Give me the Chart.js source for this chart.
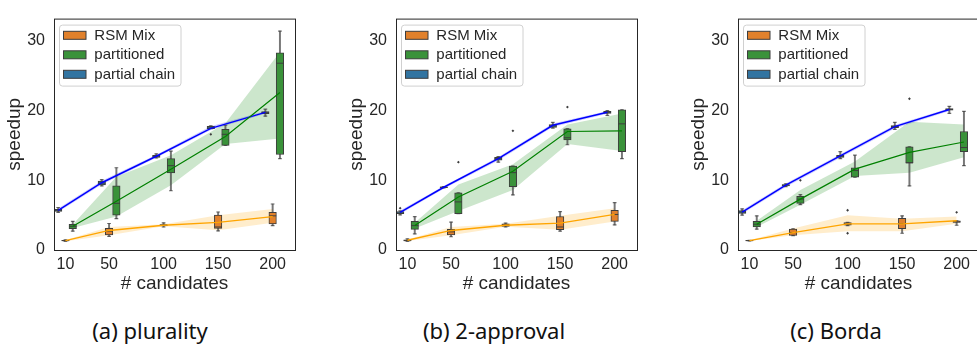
<!DOCTYPE html>
<html><head><meta charset="utf-8">
<script src="https://cdn.jsdelivr.net/npm/chart.js@4.4.1/dist/chart.umd.min.js"></script>
<style>
html,body{margin:0;padding:0;background:#fff;}
body{width:977px;height:355px;overflow:hidden;position:relative;}
.panel{position:absolute;top:0;width:330px;height:300px;}
.panel canvas{display:block;}
.cap{position:absolute;top:317px;transform:translateX(-50%);white-space:nowrap;font-family:"Noto Sans","DejaVu Sans",sans-serif;font-size:22px;line-height:26px;color:#111;}
</style></head>
<body>
<div class="panel" style="left:0px"><canvas id="c0" width="330" height="300"></canvas></div>
<div class="panel" style="left:342px"><canvas id="c1" width="330" height="300"></canvas></div>
<div class="panel" style="left:684px"><canvas id="c2" width="330" height="300"></canvas></div>
<div class="cap" style="left:150px">(a) plurality</div>
<div class="cap" style="left:494px">(b) 2-approval</div>
<div class="cap" style="left:836px">(c) Borda</div>
<script>
// ---------- data ----------
const candidates = [10, 50, 100, 150, 200];
const yTicks = [0, 10, 20, 30];
const seriesNames = ['RSM Mix', 'partitioned', 'partial chain'];

// box stats per candidate: [lower whisker, q1, median, q3, upper whisker]
// (a) plurality
const pluralityRsmBox = [[1.25,1.3,1.35,1.4,1.45],[1.95,2.15,2.7,3.1,3.8],[3.3,3.45,3.55,3.65,3.9],[2.75,3.1,3.3,5.0,5.45],[3.5,3.75,4.9,5.4,6.6]];
const pluralityRsmOut = [[],[],[],[],[]];
const pluralityRsmMean = [1.35,2.8,3.55,3.95,4.8];
const pluralityRsmLo = [1.25,2.1,3.4,2.85,3.9];
const pluralityRsmHi = [1.45,3.3,3.7,5.0,5.9];

const pluralityPartBox = [[2.7,3.05,3.4,3.7,4.1],[4.5,5.0,6.7,9.2,11.8],[8.5,11.05,12.1,13.1,14.2],[15.0,15.0,16.6,17.3,17.9],[13.1,13.7,26.8,28.3,31.4]];
const pluralityPartOut = [[],[],[],[],[]];
const pluralityPartMean = [3.4,7.0,11.6,16.3,22.6];
const pluralityPartLo = [3.15,4.8,9.3,15.2,16.0];
const pluralityPartHi = [3.65,10.5,13.6,18.2,28.4];

const pluralityChainBox = [[5.4,5.55,5.7,5.85,6.1],[9.2,9.35,9.6,9.9,10.1],[13.2,13.3,13.45,13.6,13.8],[17.4,17.4,17.5,17.75,17.8],[19.2,19.55,19.7,19.85,20.2]];
const pluralityChainOut = [[],[],[],[16.6],[]];
const pluralityChainMean = [5.7,9.65,13.45,17.45,19.75];
const pluralityChainLo = [5.45,9.4,13.25,17.2,19.55];
const pluralityChainHi = [5.95,9.95,13.65,17.75,19.95];

// (b) 2-approval
const approvalRsmBox = [[1.25,1.3,1.35,1.45,1.6],[1.9,2.15,2.6,2.95,4.0],[3.3,3.4,3.55,3.75,3.85],[2.7,2.9,3.3,4.8,5.5],[3.6,4.1,5.1,5.7,6.8]];
const approvalRsmOut = [[],[],[],[],[]];
const approvalRsmMean = [1.4,2.8,3.55,3.85,5.1];
const approvalRsmLo = [1.3,2.1,3.35,2.9,4.1];
const approvalRsmHi = [1.5,3.3,3.75,4.9,6.0];

const approvalPartBox = [[2.3,2.95,3.5,4.1,4.8],[5.2,5.2,6.9,8.2,8.2],[7.9,9.1,11.1,12.05,12.05],[15.1,15.8,16.1,17.4,17.4],[13.1,14.1,18.1,20.1,20.1]];
const approvalPartOut = [[],[12.6],[17.1],[20.5],[]];
const approvalPartMean = [3.5,7.6,11.3,17.0,17.1];
const approvalPartLo = [3.1,5.6,8.6,15.2,14.2];
const approvalPartHi = [3.9,9.4,12.3,18.0,19.6];

const approvalChainBox = [[5.05,5.2,5.3,5.5,5.6],[8.9,8.95,9.0,9.05,9.1],[12.6,12.9,13.1,13.3,13.4],[17.5,17.6,17.8,18.0,18.3],[19.3,19.6,19.75,19.9,20.0]];
const approvalChainOut = [[6.0],[],[],[],[]];
const approvalChainMean = [5.4,9.0,13.1,17.9,19.75];
const approvalChainLo = [5.15,8.8,12.85,17.65,19.55];
const approvalChainHi = [5.65,9.2,13.35,18.15,19.95];

// (c) Borda
const bordaRsmBox = [[1.3,1.32,1.35,1.38,1.4],[2.05,2.1,2.5,3.0,3.05],[3.5,3.55,3.7,3.95,3.95],[2.4,3.05,3.8,4.55,4.9],[3.55,3.95,4.05,4.2,4.2]];
const bordaRsmOut = [[],[],[5.7,2.4],[],[5.4]];
const bordaRsmMean = [1.35,2.5,3.75,3.75,4.2];
const bordaRsmLo = [1.3,2.1,2.7,2.7,3.75];
const bordaRsmHi = [1.4,3.1,5.0,4.5,4.8];

const bordaPartBox = [[3.0,3.3,3.7,4.1,4.9],[6.5,6.7,7.3,7.7,7.95],[10.45,10.45,11.4,11.8,13.6],[9.2,12.5,12.5,14.8,14.8],[12.1,14.1,14.7,17.0,19.9]];
const bordaPartOut = [[],[10.0],[],[21.7],[]];
const bordaPartMean = [3.7,7.3,11.6,14.0,15.5];
const bordaPartLo = [3.3,6.5,10.6,11.1,13.3];
const bordaPartHi = [4.2,8.6,12.7,18.4,18.0];

const bordaChainBox = [[5.0,5.25,5.45,5.65,5.9],[9.1,9.2,9.3,9.4,9.5],[13.1,13.3,13.45,13.6,14.1],[17.3,17.55,17.7,17.85,18.3],[19.6,20.05,20.15,20.3,20.6]];
const bordaChainOut = [[],[],[],[],[]];
const bordaChainMean = [5.45,9.3,13.5,17.7,20.15];
const bordaChainLo = [5.2,9.05,13.25,17.45,19.95];
const bordaChainHi = [5.7,9.55,13.75,17.95,20.35];

// ---------- styles ----------
const STYLE = [
  {box:'#e1812c', line:'#ffa500', band:'rgba(255,165,0,0.2)', dx: 0, lw: 1.3},
  {box:'#3a923a', line:'#008000', band:'rgba(0,128,0,0.2)', dx: 6.7, lw: 1.2},
  {box:'#3274a1', line:'#0000ff', band:'rgba(0,0,255,0.2)', dx: -6.7, lw: 1.5}
];
const EDGE = '#3d3d3d';
const WHISK = 'rgba(61,61,61,0.7)';
const TXT = '#262626';
const FONT = '"Liberation Sans", Arial, sans-serif';

const panels = [
  [[pluralityRsmBox,pluralityRsmOut,pluralityRsmMean,pluralityRsmLo,pluralityRsmHi],
   [pluralityPartBox,pluralityPartOut,pluralityPartMean,pluralityPartLo,pluralityPartHi],
   [pluralityChainBox,pluralityChainOut,pluralityChainMean,pluralityChainLo,pluralityChainHi]],
  [[approvalRsmBox,approvalRsmOut,approvalRsmMean,approvalRsmLo,approvalRsmHi],
   [approvalPartBox,approvalPartOut,approvalPartMean,approvalPartLo,approvalPartHi],
   [approvalChainBox,approvalChainOut,approvalChainMean,approvalChainLo,approvalChainHi]],
  [[bordaRsmBox,bordaRsmOut,bordaRsmMean,bordaRsmLo,bordaRsmHi],
   [bordaPartBox,bordaPartOut,bordaPartMean,bordaPartLo,bordaPartHi],
   [bordaChainBox,bordaChainOut,bordaChainMean,bordaChainLo,bordaChainHi]]
];

function seriesDatasets(si, box, out, mean, lo, hi) {
  const st = STYLE[si];
  const xs = candidates.map(c => c + st.dx);
  const pt = (arr) => xs.map((x, i) => ({x, y: arr[i]}));
  const caps = [];
  xs.forEach((x, i) => { caps.push({x, y: box[i][0]}); caps.push({x, y: box[i][4]}); });
  const fl = [];
  xs.forEach((x, i) => out[i].forEach(v => fl.push({x, y: v})));
  return [
    {type:'line', data: pt(lo), borderWidth:0, pointRadius:0, fill:false, order:6},
    {type:'line', data: pt(hi), borderWidth:0, pointRadius:0, fill:'-1', backgroundColor: st.band, order:6},
    {type:'bar', data: xs.map((x,i)=>({x, y:[box[i][0], box[i][4]]})), backgroundColor: WHISK, borderWidth:0, barThickness:1.3, grouped:false, order:5},
    {type:'line', data: caps, showLine:false, pointStyle:'line', pointRadius:1.9, pointBorderColor: WHISK, pointBorderWidth:1.2, order:5},
    {type:'bar', label: seriesNames[si], data: xs.map((x,i)=>({x, y:[box[i][1], box[i][3]]})), backgroundColor: st.box, borderColor: EDGE, borderWidth:1, borderSkipped:false, barThickness:7.5, grouped:false, order:4},
    {type:'line', data: pt(box.map(b => b[2])), showLine:false, pointStyle:'line', pointRadius:3.6, pointBorderColor: EDGE, pointBorderWidth:1, order:3},
    {type:'line', data: fl, showLine:false, pointStyle:'rectRot', pointRadius:1.4, pointBackgroundColor: EDGE, pointBorderWidth:0, order:3},
    {type:'line', data: pt(mean), borderColor: st.line, borderWidth: st.lw, pointRadius:0, fill:false, tension:0, order:1}
  ];
}

const framePlugin = {
  id: 'frameAndLegend',
  afterDatasetsDraw(chart) {
    const {ctx, chartArea: ca} = chart;
    ctx.save();
    // axes frame
    ctx.strokeStyle = TXT; ctx.lineWidth = 1;
    ctx.strokeRect(ca.left + 0.5, ca.top + 0.5, ca.right - ca.left, ca.bottom - ca.top);
    // legend
    const lx = ca.left + 5.5, ly = ca.top + 6.5, lw = 121.5, lh = 61, r = 3;
    ctx.beginPath();
    ctx.moveTo(lx + r, ly); ctx.lineTo(lx + lw - r, ly); ctx.arcTo(lx + lw, ly, lx + lw, ly + r, r);
    ctx.lineTo(lx + lw, ly + lh - r); ctx.arcTo(lx + lw, ly + lh, lx + lw - r, ly + lh, r);
    ctx.lineTo(lx + r, ly + lh); ctx.arcTo(lx, ly + lh, lx, ly + lh - r, r);
    ctx.lineTo(lx, ly + r); ctx.arcTo(lx, ly, lx + r, ly, r); ctx.closePath();
    ctx.fillStyle = 'rgba(255,255,255,0.85)'; ctx.fill();
    ctx.strokeStyle = '#d0d0d0'; ctx.lineWidth = 1; ctx.stroke();
    ctx.font = '15px ' + FONT; ctx.textBaseline = 'middle'; ctx.textAlign = 'left';
    seriesNames.forEach((name, i) => {
      const cy = ca.top + 16.7 + i * 19.5;
      ctx.fillStyle = STYLE[i].box;
      ctx.fillRect(ca.left + 9.5, cy - 4, 22.5, 8);
      ctx.strokeStyle = EDGE; ctx.lineWidth = 1;
      ctx.strokeRect(ca.left + 9.5, cy - 4, 22.5, 8);
      ctx.fillStyle = TXT;
      ctx.fillText(name, ca.left + 40.3, cy + 0.5);
    });
    ctx.restore();
  }
};

panels.forEach((panel, pi) => {
  const datasets = [];
  panel.forEach((s, si) => datasets.push(...seriesDatasets(si, ...s)));
  new Chart(document.getElementById('c' + pi), {
    type: 'bar',
    data: { datasets },
    plugins: [framePlugin],
    options: {
      responsive: false,
      animation: false,
      events: [],
      layout: { padding: { left: 0, top: 6, right: 35, bottom: 2 } },
      plugins: { legend: { display: false }, tooltip: { enabled: false } },
      scales: {
        x: {
          type: 'linear', min: -0.5, max: 220.5, offset: false,
          grid: { display: false, drawTicks: false }, border: { display: false },
          afterBuildTicks: (s) => { s.ticks = candidates.map(v => ({ value: v })); },
          afterFit: (s) => { s.height = 48; },
          ticks: { autoSkip: false, maxRotation: 0, padding: 5, color: TXT, font: { family: FONT, size: 16 } },
          title: { display: true, text: '# candidates', color: TXT, padding: { top: 0, bottom: 3 }, font: { family: FONT, size: 19 } }
        },
        y: {
          type: 'linear', min: 0, max: 33.2,
          grid: { display: false, drawTicks: false }, border: { display: false },
          afterBuildTicks: (s) => { s.ticks = yTicks.map(v => ({ value: v })); },
          afterFit: (s) => { s.width = 54; },
          ticks: { padding: 9, color: TXT, font: { family: FONT, size: 16 } },
          title: { display: true, text: 'speedup', color: TXT, padding: { top: 3, bottom: 0 }, font: { family: FONT, size: 19 } }
        }
      }
    }
  });
});
</script>
</body></html>
